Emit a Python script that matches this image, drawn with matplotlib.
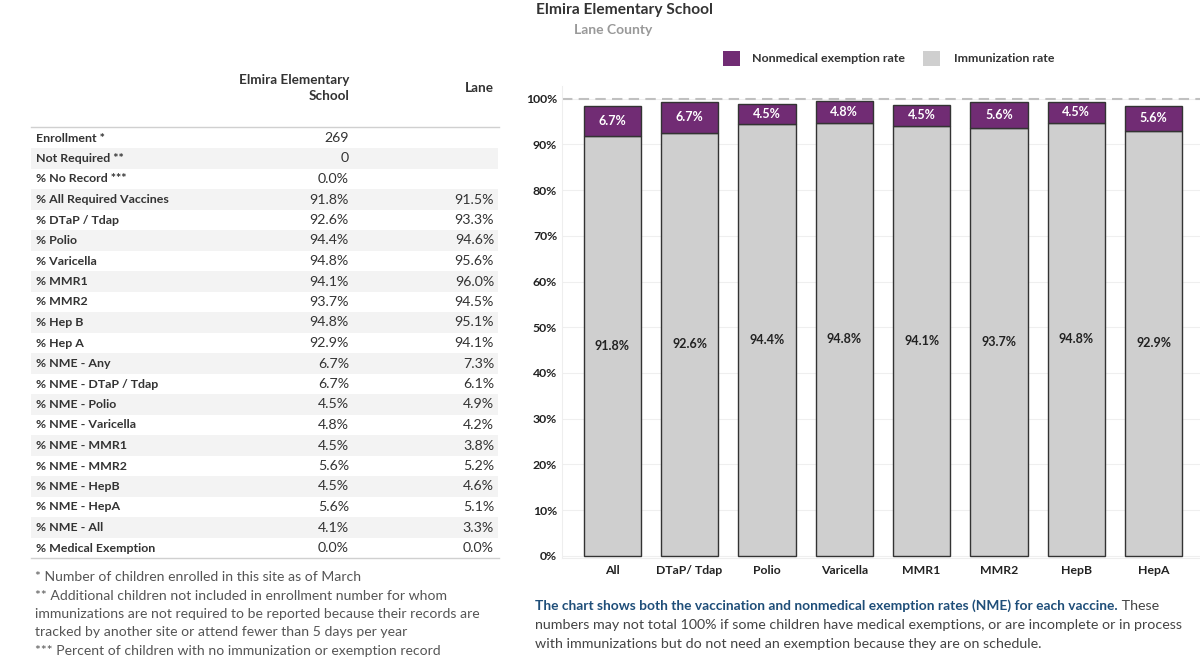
import matplotlib.pyplot as plt
import numpy as np

plt.rcParams['font.family'] = ['Lato', 'DejaVu Sans']

PURPLE = '#712c74'
GREY = '#cfcfcf'
W, H = 1200, 665

# table data
row_labels = ['Enrollment *', 'Not Required **', '% No Record ***',
              '% All Required Vaccines', '% DTaP / Tdap', '% Polio',
              '% Varicella', '% MMR1', '% MMR2', '% Hep B', '% Hep A',
              '% NME - Any', '% NME - DTaP / Tdap', '% NME - Polio',
              '% NME - Varicella', '% NME - MMR1', '% NME - MMR2',
              '% NME - HepB', '% NME - HepA', '% NME - All',
              '% Medical Exemption']
school_vals = ['269', '0', '0.0%', '91.8%', '92.6%', '94.4%', '94.8%',
               '94.1%', '93.7%', '94.8%', '92.9%', '6.7%', '6.7%', '4.5%',
               '4.8%', '4.5%', '5.6%', '4.5%', '5.6%', '4.1%', '0.0%']
county_vals = ['', '', '', '91.5%', '93.3%', '94.6%', '95.6%', '96.0%',
               '94.5%', '95.1%', '94.1%', '7.3%', '6.1%', '4.9%', '4.2%',
               '3.8%', '5.2%', '4.6%', '5.1%', '3.3%', '0.0%']

footnotes = ['* Number of children enrolled in this site as of March',
             '** Additional children not included in enrollment number for whom',
             'immunizations are not required to be reported because their records are',
             'tracked by another site or attend fewer than 5 days per year',
             '*** Percent of children with no immunization or exemption record']

# chart data
vaccines = ['All', 'DTaP/ Tdap', 'Polio', 'Varicella', 'MMR1', 'MMR2',
            'HepB', 'HepA']
immunization = [91.8, 92.6, 94.4, 94.8, 94.1, 93.7, 94.8, 92.9]
nme = [6.7, 6.7, 4.5, 4.8, 4.5, 5.6, 4.5, 5.6]


def fx(px):
    return px / W


def fy(py):
    return 1 - py / H


fig = plt.figure(figsize=(12, 6.65), dpi=100)

# titles
fig.text(fx(624), fy(10), 'Elmira Elementary School', ha='center',
         va='center', fontsize=11.2, fontweight='bold', color='#333333')
fig.text(fx(613), fy(30), 'Lane County', ha='center', va='center',
         fontsize=10, fontweight='bold', color='#999999')

# table
fig.text(fx(349), fy(88), 'Elmira Elementary\nSchool', ha='right',
         va='center', fontsize=9.7, fontweight='bold', color='#333333',
         linespacing=1.5)
fig.text(fx(494), fy(88), 'Lane', ha='right', va='center', fontsize=9.7,
         fontweight='bold', color='#333333')

row_h = 20.5
y0 = 138
fig.add_artist(plt.Line2D([fx(31), fx(499)], [fy(127), fy(127)],
                          color='#d0d0d0', lw=1))
for i, lab in enumerate(row_labels):
    yc = y0 + i * row_h
    if i % 2 == 1:
        fig.add_artist(plt.Rectangle((fx(31), fy(yc + row_h / 2)),
                                     fx(498 - 31), row_h / H,
                                     color='#f3f3f3', lw=0, zorder=0))
    fig.text(fx(36), fy(yc), lab, ha='left', va='center', fontsize=8.9,
             fontweight='bold', color='#333333')
    fig.text(fx(349), fy(yc), school_vals[i], ha='right', va='center',
             fontsize=10.2, color='#333333')
    fig.text(fx(494), fy(yc), county_vals[i], ha='right', va='center',
             fontsize=10.2, color='#333333')
y_end = y0 + (len(row_labels) - 0.5) * row_h
fig.add_artist(plt.Line2D([fx(31), fx(499)], [fy(y_end), fy(y_end)],
                          color='#d0d0d0', lw=1))

for i, line in enumerate(footnotes):
    fig.text(fx(35), fy(577 + i * 18.5), line, ha='left', va='center',
             fontsize=10.1, color='#555555')

# chart
ax = fig.add_axes([fx(562), fy(558), fx(1200 - 562), (558 - 86) / H])
x = np.arange(len(vaccines))
ax.bar(x, immunization, width=0.74, color=GREY, edgecolor='#333333',
       lw=1, zorder=3)
ax.bar(x, nme, width=0.74, bottom=immunization, color=PURPLE,
       edgecolor='#333333', lw=1, zorder=3)
for xi, imm, n in zip(x, immunization, nme):
    ax.text(xi, imm / 2, f'{imm:.1f}%', ha='center', va='center',
            fontsize=9, fontweight='bold', color='#222222', zorder=4)
    ax.text(xi, imm + n / 2, f'{n:.1f}%', ha='center', va='center',
            fontsize=9, fontweight='bold', color='white', zorder=4)

ax.axhline(100, color='#c0c0c0', ls=(0, (5, 3)), lw=1.5, zorder=2)
ax.set_xlim(-0.65, 7.6)
ax.set_ylim(-0.5, 102.8)
ax.set_yticks(np.arange(0, 101, 10))
ax.set_yticklabels([f'{v}%' for v in range(0, 101, 10)])
ax.set_xticks(x)
ax.set_xticklabels(vaccines)
ax.grid(axis='y', color='#efefef', lw=0.8, zorder=0)
ax.tick_params(axis='both', length=0, labelsize=8.8)
ax.tick_params(axis='x', pad=5)
for lab in ax.get_xticklabels() + ax.get_yticklabels():
    lab.set_fontweight('bold')
    lab.set_color('#222222')
for side in ['top', 'right']:
    ax.spines[side].set_visible(False)
ax.spines['left'].set_color('#eeeeee')
ax.spines['bottom'].set_color('#eeeeee')

# legend
fig.add_artist(plt.Rectangle((fx(723), fy(66)), fx(17), 15 / H,
                             color=PURPLE, lw=0))
fig.text(fx(752), fy(58), 'Nonmedical exemption rate', ha='left',
         va='center', fontsize=8.9, fontweight='bold', color='#333333')
fig.add_artist(plt.Rectangle((fx(923), fy(66)), fx(17), 15 / H,
                             color=GREY, lw=0))
fig.text(fx(954), fy(58), 'Immunization rate', ha='left', va='center',
         fontsize=8.9, fontweight='bold', color='#333333')

# caption
t1 = fig.text(fx(535), fy(606), 'The chart shows both the vaccination and '
              'nonmedical exemption rates (NME) for each vaccine.',
              ha='left', va='center', fontsize=9.9, fontweight='bold',
              color='#1f4e79')
fig.canvas.draw()
bb = t1.get_window_extent()
fig.text(bb.x1 / fig.dpi / 12, fy(606), ' These', ha='left', va='center',
         fontsize=10.3, color='#444444')
fig.text(fx(535), fy(625), 'numbers may not total 100% if some children '
         'have medical exemptions, or are incomplete or in process',
         ha='left', va='center', fontsize=10.3, color='#444444')
fig.text(fx(535), fy(644), 'with immunizations but do not need an '
         'exemption because they are on schedule.', ha='left', va='center',
         fontsize=10.3, color='#444444')

fig.savefig('out.png', dpi=100)
